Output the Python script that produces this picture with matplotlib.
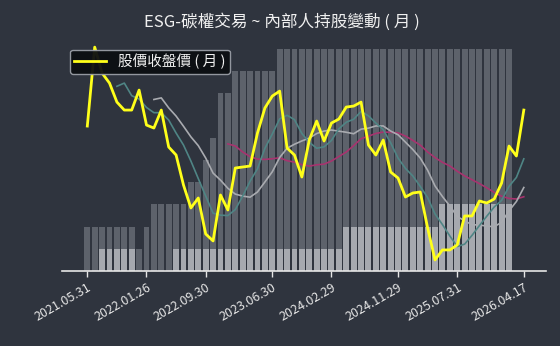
import numpy as np
import pandas as pd
import matplotlib
matplotlib.use("Agg")
import matplotlib.pyplot as plt

plt.rcParams['font.family'] = ['Noto Sans CJK TC', 'DejaVu Sans']

# monthly dates
dates = [
    "2021.05.31", "2021.06.30", "2021.07.30", "2021.08.31", "2021.09.30", "2021.10.29",
    "2021.11.30", "2021.12.30", "2022.01.26", "2022.02.25", "2022.03.31", "2022.04.29",
    "2022.05.31", "2022.06.30", "2022.07.29", "2022.08.31", "2022.09.30", "2022.10.31",
    "2022.11.30", "2022.12.30", "2023.01.30", "2023.02.24", "2023.03.31", "2023.04.28",
    "2023.05.31", "2023.06.30", "2023.07.31", "2023.08.31", "2023.09.28", "2023.10.31",
    "2023.11.30", "2023.12.29", "2024.01.31", "2024.02.29", "2024.03.29", "2024.04.30",
    "2024.05.31", "2024.06.28", "2024.07.31", "2024.08.30", "2024.09.30", "2024.10.31",
    "2024.11.29", "2024.12.31", "2025.01.22", "2025.02.27", "2025.03.31", "2025.04.30",
    "2025.05.30", "2025.06.30", "2025.07.31", "2025.08.29", "2025.09.30", "2025.10.31",
    "2025.11.28", "2025.12.31", "2026.01.30", "2026.02.26", "2026.03.31", "2026.04.17",
]

# monthly close price
price = [
    72.5, 112, 99, 94, 84.5, 80.5, 80.5, 90.5, 73, 71.5,
    80.5, 62, 58, 43, 31.5, 36.5, 18.5, 15, 38, 30.5,
    51.5, 52, 52.5, 69, 81.5, 87.5, 90, 61.5, 58, 47,
    65.5, 75, 65, 74, 76, 82, 82.5, 84.5, 63, 58,
    65.5, 49.5, 46.5, 37, 39, 39.5, 21.5, 5.5, 10.5, 10.5,
    13, 27.5, 27.5, 35, 34, 36, 44, 62.5, 57.5, 80.5,
]

# insider holding bars (two series)
hold_a = ([2] * 7 + [1, 2] + [3] * 5 + [4, 4, 5, 6, 8, 8] + [9] * 6 + [10] * 32
          + [np.nan, np.nan])
hold_b = ([0, 0] + [1] * 5 + [0] * 5 + [1] * 23 + [2] * 13 + [3] * 10
          + [np.nan, np.nan])

tick_idx = [0, 8, 16, 25, 33, 42, 50, 59]

bg = '#2f343e'
x = np.arange(len(dates))
s = pd.Series(price)
ma5 = s.rolling(5).mean()
ma10 = s.rolling(10).mean()
ma20 = s.rolling(20).mean()

fig = plt.figure(figsize=(5.6, 3.46), dpi=100, facecolor=bg)
ax = fig.add_axes([0.111, 0.217, 0.864, 0.667])
ax.set_facecolor(bg)

ax.bar(x, hold_a, width=0.8, color='#5d626b', zorder=1)
ax.bar(x, hold_b, width=0.8, color='#a6a9af', zorder=2)
ax.set_ylim(0, 10.4)
ax.set_xlim(-3.4, 62)

ax2 = ax.twinx()
ax2.plot(x, ma20, color='#a8336f', lw=1.2)
ax2.plot(x, ma10, color='#a9abb0', lw=1.2)
ax2.plot(x, ma5, color='#4f8585', lw=1.2)
line, = ax2.plot(x, price, color='#ffff1a', lw=2.0)
ax2.set_ylim(0, 115.5)

for a in (ax, ax2):
    for sp in ['top', 'right', 'left']:
        a.spines[sp].set_visible(False)
    a.set_yticks([])
ax2.spines['bottom'].set_visible(False)
ax.spines['bottom'].set_color('#e6e6e6')
ax.spines['bottom'].set_linewidth(1.2)

ax.set_xticks(tick_idx)
ax.set_xticklabels([dates[i] for i in tick_idx], rotation=30, ha='right',
                   rotation_mode='anchor', fontsize=9, color='#e6e6e6')
ax.tick_params(axis='x', colors='#e6e6e6', length=4, width=1)

fig.text(0.503, 0.935, 'ESG-碳權交易 ~ 內部人持股變動 ( 月 )', ha='center', va='center',
         fontsize=12, color='#f0f0f0')

leg = ax2.legend([line], ['股價收盤價 ( 月 )'], loc='upper left',
                 bbox_to_anchor=(0.112, 0.878), bbox_transform=fig.transFigure,
                 fontsize=10.5, frameon=True, handlelength=2.2, borderpad=0.3)
leg.get_frame().set_facecolor('#0c0e12')
leg.get_frame().set_edgecolor('#9a9ea6')
leg.get_frame().set_alpha(0.95)
for t in leg.get_texts():
    t.set_color('#f0f0f0')

fig.savefig('out.png', dpi=100, facecolor=bg)
